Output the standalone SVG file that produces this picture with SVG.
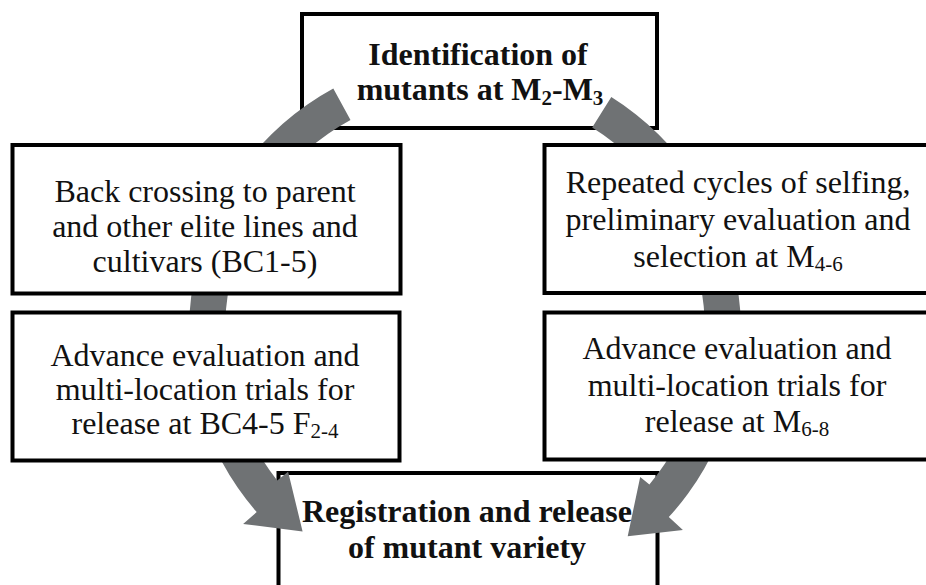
<svg xmlns="http://www.w3.org/2000/svg" width="926" height="585" viewBox="0 0 926 585">
<style>
.box{fill:#ffffff;stroke:#000000;stroke-width:4}
text{font-family:'Liberation Serif','DejaVu Serif','Times New Roman',serif;font-size:32px;fill:#111111;text-anchor:middle}
.b{font-weight:bold}
.arr{fill:#6f7274;stroke:none}
</style>
<rect width="926" height="585" fill="#ffffff"/>
<g id="n-identification" font-family="Liberation Serif, DejaVu Serif, serif">
<rect class="box" x="302" y="14" width="355" height="114"/>
<text class="b" x="478" y="65">Identification of</text>
<text class="b" x="480" y="100">mutants at M<tspan font-size="21" dy="5">2</tspan><tspan dy="-5">-M</tspan><tspan font-size="21" dy="5">3</tspan></text>
</g>
<g id="n-registration" font-family="Liberation Serif, DejaVu Serif, serif">
<rect class="box" x="278.5" y="473" width="379" height="140"/>
<text class="b" x="467" y="522">Registration and release</text>
<text class="b" x="467" y="558">of mutant variety</text>
</g>
<g id="connectors">
<path class="arr" d="M333.3 88.5 A276 276 0 0 0 256.7 512.1 L243.1 523.9 L302.6 531.5 L288.1 471.7 L277.2 480.4 A240 240 0 0 1 350.5 120.1 Z"/>
<path class="arr" d="M611.3 97 A276 276 0 0 1 668.8 517.1 L682.9 529.9 L627.7 536.3 L640.2 476.9 L649.4 484.6 A240 240 0 0 0 592.2 127.5 Z"/>
</g>
<g id="n-backcross" font-family="Liberation Serif, DejaVu Serif, serif">
<rect class="box" x="12.5" y="145" width="388" height="148.5"/>
<text x="205" y="202">Back crossing to parent</text>
<text x="205" y="237">and other elite lines and</text>
<text x="205" y="272">cultivars (BC1-5)</text>
</g>
<g id="n-selfing" font-family="Liberation Serif, DejaVu Serif, serif">
<rect class="box" x="544.5" y="145" width="388" height="148"/>
<text x="738" y="193">Repeated cycles of selfing,</text>
<text x="738" y="230">preliminary evaluation and</text>
<text x="738" y="267">selection at M<tspan font-size="21" dy="4">4-6</tspan></text>
</g>
<g id="n-advance-bc" font-family="Liberation Serif, DejaVu Serif, serif">
<rect class="box" x="12.5" y="312.5" width="387" height="148"/>
<text x="205" y="366">Advance evaluation and</text>
<text x="205" y="400">multi-location trials for</text>
<text x="205" y="434">release at BC4-5 F<tspan font-size="21" dy="4">2-4</tspan></text>
</g>
<g id="n-advance-m" font-family="Liberation Serif, DejaVu Serif, serif">
<rect class="box" x="544.5" y="312.5" width="388" height="147"/>
<text x="737" y="359">Advance evaluation and</text>
<text x="737" y="396">multi-location trials for</text>
<text x="737" y="432">release at M<tspan font-size="21" dy="4">6-8</tspan></text>
</g>
</svg>
